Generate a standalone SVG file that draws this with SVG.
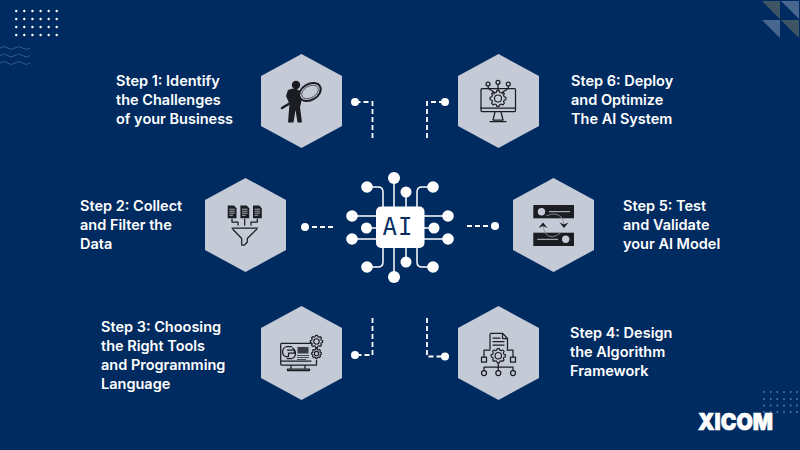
<svg xmlns="http://www.w3.org/2000/svg" width="800" height="450" viewBox="0 0 800 450">
<style>
.hex{fill:#c5cad7}
.t{font-family:"Inter","Liberation Sans",sans-serif;font-weight:600;font-size:14.5px;fill:#fff}
.i{fill:none;stroke:#1b1d22;stroke-width:1.25;stroke-linecap:round;stroke-linejoin:round}
.f{fill:#1b1d22}
.g{fill:none;stroke:#1b1d22;stroke-width:1.15;vector-effect:non-scaling-stroke;stroke-linejoin:round}
.con{fill:none;stroke:#fff;stroke-width:1.8;stroke-dasharray:5 3}
.d{fill:#fff}
.ai{fill:none;stroke:#fff;stroke-width:1.5}
.w{fill:none;stroke:#3a5a88;stroke-width:1}
.bd{fill:#5c7ba3}
.td{fill:#fff}
</style>
<defs>
<polygon id="hexa" class="hex" points="0,-47 40.500,-25 40.500,25 0,47 -40.500,25 -40.500,-25"/>
<g id="gear"><polygon class="g" points="7.730,-2.070 9.880,-1.560 9.880,1.560 7.730,2.070 6.930,4 8.090,5.880 5.880,8.090 4,6.930 2.070,7.730 1.560,9.880 -1.560,9.880 -2.070,7.730 -4,6.930 -5.880,8.090 -8.090,5.880 -6.930,4 -7.730,2.070 -9.880,1.560 -9.880,-1.560 -7.730,-2.070 -6.930,-4 -8.090,-5.880 -5.880,-8.090 -4,-6.930 -2.070,-7.730 -1.560,-9.880 1.560,-9.880 2.070,-7.730 4,-6.930 5.880,-8.090 8.090,-5.880 6.930,-4"/><circle class="g" r="4.400"/></g>
<g id="docf"><path class="f" d="M-4.300-6.500H2L4.500-3.800V6.200H-4.300Z"/><path d="M-2.700-2.800H2.800M-2.700-.8H2.800M-2.700 1.200H2.800M-2.700 3.300H1" stroke="#c5cad7" stroke-width=".8" fill="none"/></g>
<path id="wave" class="w" d="M0 0q3.700-3 7.500 0t7.500 0t7.500 0t7.500 0"/>
</defs>
<rect width="800" height="450" fill="#002b60"/>

<g id="deco">
<g class="td">
<circle cx="16.300" cy="11" r="1.200"/><circle cx="24.300" cy="11" r="1.200"/><circle cx="32.400" cy="11" r="1.200"/><circle cx="40.600" cy="11" r="1.200"/><circle cx="48.700" cy="11" r="1.200"/><circle cx="56.700" cy="11" r="1.200"/>
<circle cx="16.300" cy="19" r="1.200"/><circle cx="24.300" cy="19" r="1.200"/><circle cx="32.400" cy="19" r="1.200"/><circle cx="40.600" cy="19" r="1.200"/><circle cx="48.700" cy="19" r="1.200"/><circle cx="56.700" cy="19" r="1.200"/>
<circle cx="16.300" cy="27" r="1.200"/><circle cx="24.300" cy="27" r="1.200"/><circle cx="32.400" cy="27" r="1.200"/><circle cx="40.600" cy="27" r="1.200"/><circle cx="48.700" cy="27" r="1.200"/><circle cx="56.700" cy="27" r="1.200"/>
<circle cx="16.300" cy="35" r="1.200"/><circle cx="24.300" cy="35" r="1.200"/><circle cx="32.400" cy="35" r="1.200"/><circle cx="40.600" cy="35" r="1.200"/><circle cx="48.700" cy="35" r="1.200"/><circle cx="56.700" cy="35" r="1.200"/>
</g>
<use href="#wave" y="48"/><use href="#wave" y="55.500"/><use href="#wave" y="63"/>
<polygon points="762,1 780,1 780,19" fill="#3e5566"/>
<polygon points="781,1 799,1 799,19" fill="#47678f"/>
<polygon points="762,20 780,20 780,38" fill="#47678f"/>
<polygon points="781,20 799,20 799,38" fill="#3e5566"/>
<g class="bd">
<circle cx="764" cy="392" r=".9"/><circle cx="770.700" cy="392" r=".9"/><circle cx="777.300" cy="392" r=".9"/><circle cx="784" cy="392" r=".9"/><circle cx="790.700" cy="392" r=".9"/><circle cx="797" cy="392" r=".9"/>
<circle cx="764" cy="399" r=".9"/><circle cx="770.700" cy="399" r=".9"/><circle cx="777.300" cy="399" r=".9"/><circle cx="784" cy="399" r=".9"/><circle cx="790.700" cy="399" r=".9"/><circle cx="797" cy="399" r=".9"/>
<circle cx="764" cy="405.500" r=".9"/><circle cx="770.700" cy="405.500" r=".9"/><circle cx="777.300" cy="405.500" r=".9"/><circle cx="784" cy="405.500" r=".9"/><circle cx="790.700" cy="405.500" r=".9"/><circle cx="797" cy="405.500" r=".9"/>
<circle cx="764" cy="412" r=".9"/><circle cx="770.700" cy="412" r=".9"/><circle cx="777.300" cy="412" r=".9"/><circle cx="784" cy="412" r=".9"/><circle cx="790.700" cy="412" r=".9"/><circle cx="797" cy="412" r=".9"/>
</g>
<text x="698" y="430" font-family="Inter,'Liberation Sans',sans-serif" font-weight="900" font-size="23" fill="#fff" stroke="#fff" stroke-width=".7" textLength="75" lengthAdjust="spacingAndGlyphs">XICOM</text>
</g>

<g id="connectors">
<path class="con" d="M372.500 138V102H355"/>
<path class="con" d="M427 138V102H445"/>
<path class="con" d="M333 227H305"/>
<path class="con" d="M467 226H495"/>
<path class="con" d="M372.500 318V355H355"/>
<path class="con" d="M427 318V356.500H445"/>
<g class="d">
<circle cx="355" cy="102" r="4"/><circle cx="445" cy="102" r="4"/><circle cx="305" cy="227" r="4"/><circle cx="495" cy="226" r="4"/><circle cx="355" cy="355" r="4"/><circle cx="445" cy="356.500" r="4"/>
</g>
</g>

<g id="node-ai">
<path class="ai" d="M394 178V207M367 187H378Q383 187 383 192V207M406 192V207M433 187H422Q417 187 417 192V207M352 216H376M367 228H376M352 239H376M448 216H424M434 228H424M448 239H424M394 248V277M406 248V262M383 248V262Q383 267 378 267H367M417 248V262Q417 267 422 267H433"/>
<g class="d">
<rect x="376" y="206.500" width="48.500" height="41.500" rx="5"/>
<circle cx="394" cy="178" r="6"/><circle cx="367" cy="187" r="5.800"/><circle cx="406" cy="192" r="5.500"/><circle cx="433" cy="187" r="5.800"/>
<circle cx="352" cy="216" r="5.800"/><circle cx="366.500" cy="228" r="5.500"/><circle cx="352" cy="239" r="5.800"/>
<circle cx="448" cy="216" r="5.800"/><circle cx="434" cy="228" r="5.500"/><circle cx="448" cy="239" r="5.800"/>
<circle cx="367" cy="267" r="5.800"/><circle cx="406" cy="262" r="5.500"/><circle cx="394" cy="277" r="6"/><circle cx="433" cy="267" r="5.800"/>
</g>
<text x="398" y="234.500" text-anchor="middle" font-family="'DejaVu Sans Mono','Liberation Mono',monospace" font-size="24" letter-spacing="1" fill="#0a2f63">AI</text>
</g>

<g id="node-step1">
<use href="#hexa" x="301.500" y="101"/>
<circle class="f" cx="296" cy="85" r="4.200"/>
<path class="f" d="M288 90Q295 86.500 300 91L301.500 101L300 107L302 122.500H297.500L295.500 110L293.500 122.500H288L289.500 104L286 96Z"/>
<path d="M282 108L297 99" stroke="#1b1d22" stroke-width="2.500" fill="none" stroke-linecap="round"/>
<ellipse cx="310" cy="92" rx="11.500" ry="8" transform="rotate(-30 310 92)" fill="#c5cad7" stroke="#1b1d22" stroke-width="2"/>
<ellipse cx="310" cy="92" rx="9" ry="5.800" transform="rotate(-30 310 92)" fill="none" stroke="#1b1d22" stroke-width=".6"/>
<text class="t"><tspan x="116" y="86">Step 1: Identify</tspan><tspan x="116" y="105">the Challenges</tspan><tspan x="116" y="124">of your Business</tspan></text>
</g>

<g id="node-step6">
<use href="#hexa" x="498.500" y="101"/>
<rect class="i" x="481" y="88.500" width="34.500" height="23" rx="1"/>
<path class="i" d="M481 108H515.500M495 112L493 120H503L501 112M490 121.500H506M488.300 86.500V88.500L494 92V94M498 84.500V90M508.300 86.500V88.500L503 92V94"/>
<circle class="i" cx="488" cy="84" r="2"/><circle class="i" cx="498" cy="82.300" r="2"/><circle class="i" cx="508.300" cy="84" r="2"/>
<use href="#gear" transform="translate(498 98.500) scale(.8)"/>
<text class="t"><tspan x="571" y="86">Step 6: Deploy</tspan><tspan x="571" y="105">and Optimize</tspan><tspan x="571" y="124">The AI System</tspan></text>
</g>

<g id="node-step2">
<use href="#hexa" x="245.500" y="225"/>
<use href="#docf" x="232" y="212"/><use href="#docf" x="244.700" y="212"/><use href="#docf" x="257.300" y="212"/>
<path class="i" d="M232 219V222H238V225M244.700 219V225M257.300 219V222H251V225"/>
<path class="i" d="M232 228H257.500M233 229.500L241.700 238.500V245H244.500L247.300 242V238.500L256.500 229.500"/>
<text class="t"><tspan x="80" y="211">Step 2: Collect</tspan><tspan x="80" y="230">and Filter the</tspan><tspan x="80" y="249">Data</tspan></text>
</g>

<g id="node-step5">
<use href="#hexa" x="553.500" y="225"/>
<rect class="f" x="533.300" y="205" width="40.700" height="13.300"/>
<rect class="f" x="533.300" y="232.700" width="40.700" height="13.300"/>
<circle cx="541.500" cy="211.700" r="3.700" fill="#c5cad7"/><circle cx="565.700" cy="239.300" r="3.700" fill="#c5cad7"/>
<path d="M549 211.700H570M537.300 239.300H558" stroke="#c5cad7" stroke-width="1" fill="none"/>
<path d="M546 216Q556 211 562 218Q564 221 564 226M561 232.500Q552 240 546 234Q543 230 543 224.500" fill="none" stroke="#8c909a" stroke-width=".9"/>
<path class="f" d="M559.500 222.500L564 228L568.500 222.500L564 224.500ZM538.500 228L543 222.500L547.500 228L543 226Z"/>
<text class="t"><tspan x="623" y="211">Step 5: Test</tspan><tspan x="623" y="230">and Validate</tspan><tspan x="623" y="249">your AI Model</tspan></text>
</g>

<g id="node-step3">
<use href="#hexa" x="301.500" y="353"/>
<path class="i" d="M311 343.300H281.500Q280.700 343.300 280.700 344.500V364Q280.700 365 281.500 365H316.500V360M280.700 361H311M291 365V368M305 365V368M287.500 369H309.500V370.500H287.500Z"/>
<path class="i" d="M291.500 346.500H287Q283 347.500 282.500 351.500Q282.500 355.500 285.500 356.500H288.500V353H294.500V350H287.500M287 358.500H291.500Q295 358 295.500 354Q295.500 349.500 292.500 348"/>
<rect x="297.500" y="347" width="11" height="6.500" fill="#3a3d44"/>
<path d="M297 355.500H309M297 357.500H309M297 359.500H306" stroke="#3a3d44" stroke-width=".9" fill="none"/>
<use href="#gear" transform="translate(316.500 341.500) scale(.62)"/>
<use href="#gear" transform="translate(316.500 353.500) scale(.5)"/>
<text class="t"><tspan x="101" y="332">Step 3: Choosing</tspan><tspan x="101" y="351">the Right Tools</tspan><tspan x="101" y="370">and Programming</tspan><tspan x="101" y="389">Language</tspan></text>
</g>

<g id="node-step4">
<use href="#hexa" x="498.500" y="353"/>
<path class="i" d="M490 349V334.500Q490 333.300 491 333.300H502.500L507.500 338.500V349M502.500 333.300V338.500H507.500M493 338H500M493 341.500H504M493 345H504"/>
<use href="#gear" transform="translate(498.300 355.700) scale(.72)"/>
<path class="i" d="M484 357V350H490M513 357V350H507M498.300 363.500V370.500M484 370.500V367H513V370.500"/>
<rect class="i" x="481.500" y="357" width="5" height="5"/><rect class="i" x="510.500" y="357" width="5" height="5"/>
<circle class="i" cx="484" cy="373" r="2.500"/><circle class="i" cx="498.300" cy="373" r="2.500"/><circle class="i" cx="513" cy="373" r="2.500"/>
<text class="t"><tspan x="570" y="338">Step 4: Design</tspan><tspan x="570" y="357">the Algorithm</tspan><tspan x="570" y="376">Framework</tspan></text>
</g>
</svg>
